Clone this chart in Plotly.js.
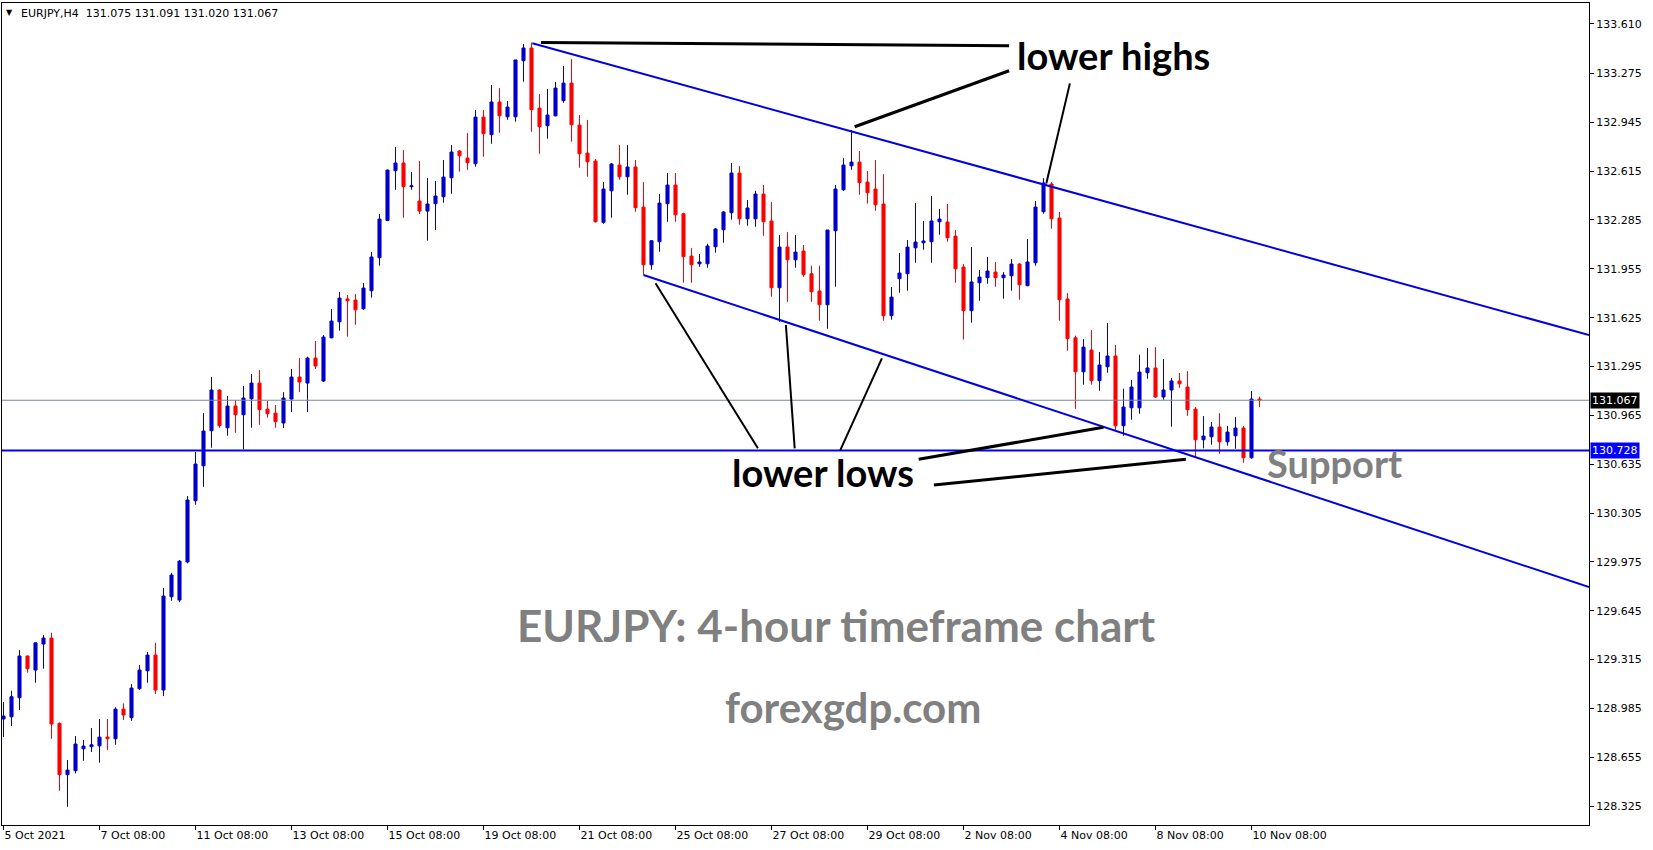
<!DOCTYPE html>
<html>
<head>
<meta charset="utf-8">
<script src="https://cdn.plot.ly/plotly-3.0.1.min.js"></script>
<style>
html,body{margin:0;padding:0;background:#fff;}
#chart{width:1653px;height:850px;}
</style>
</head>
<body>
<div id="chart"></div>
<script>
// ---- H4 candles, EURJPY (bar index 0 = 5 Oct 2021) ----
const opens = [
128.913,128.928,129.057,129.339,129.244,129.420,129.460,128.884,128.537,128.564,
128.712,128.726,128.732,128.791,128.780,128.980,128.922,129.118,129.239,129.345,
129.109,129.739,129.717,129.974,130.388,130.624,130.861,131.136,130.881,131.028,
130.969,131.077,131.183,131.007,130.980,130.913,131.075,131.224,131.183,131.352,
131.197,131.489,131.597,131.751,131.744,131.685,131.807,132.030,132.282,132.618,
132.670,132.510,132.413,132.345,132.395,132.442,132.570,132.751,132.703,132.665,
132.980,132.861,133.082,132.982,132.982,133.361,133.447,133.041,132.922,132.989,
133.091,133.210,132.926,132.737,132.683,132.269,132.482,132.656,132.577,132.643,
132.372,131.982,132.138,132.395,132.521,132.327,132.041,131.989,131.989,132.104,
132.219,132.334,132.602,132.293,132.293,132.460,132.278,131.827,132.102,132.016,
132.075,131.922,131.805,131.712,132.212,132.489,132.651,132.676,132.541,132.494,
132.393,131.638,131.888,131.922,132.097,132.131,132.138,132.273,132.271,132.176,
131.967,131.672,131.861,131.895,131.933,131.895,131.908,131.987,131.841,131.996,
132.341,132.528,132.298,131.751,131.489,131.259,131.406,131.199,131.293,131.366,
130.895,131.016,131.016,131.253,131.285,131.089,131.136,131.197,131.156,131.007,
130.800,130.820,130.886,130.786,130.827,130.879,130.678,131.075];
const highs = [
129.028,129.104,129.379,129.342,129.430,129.480,129.496,128.890,128.636,128.798,
128.771,128.852,128.913,128.913,128.992,129.019,129.149,129.278,129.366,129.428,
129.798,129.901,129.987,130.420,130.717,130.980,131.224,131.140,131.095,131.068,
131.163,131.244,131.271,131.062,131.035,131.122,131.278,131.352,131.361,131.467,
131.507,131.683,131.798,131.778,131.784,131.859,132.068,132.325,132.625,132.778,
132.757,132.609,132.683,132.568,132.548,132.690,132.791,132.757,132.872,133.028,
133.028,133.197,133.176,133.089,133.366,133.474,133.484,133.136,133.170,133.217,
133.325,133.372,132.994,132.960,132.697,132.541,132.670,132.791,132.791,132.690,
132.541,132.149,132.460,132.602,132.602,132.334,132.095,132.055,132.124,132.230,
132.345,132.670,132.649,132.420,132.482,132.521,132.406,132.183,132.203,132.183,
132.116,131.976,131.976,132.217,132.521,132.703,132.893,132.751,132.616,132.690,
132.595,131.832,132.062,132.149,132.399,132.278,132.447,132.359,132.393,132.217,
131.987,132.102,131.947,132.035,132.001,131.933,132.021,131.994,132.156,132.413,
132.568,132.541,132.339,131.791,131.503,131.480,131.541,131.393,131.589,131.440,
131.145,131.203,131.374,131.420,131.426,131.345,131.217,131.251,131.264,131.021,
130.960,130.920,130.980,130.893,130.953,130.893,131.129,131.091];
const lows = [
128.791,128.866,128.974,129.226,129.158,129.253,128.780,128.428,128.320,128.546,
128.631,128.690,128.618,128.703,128.739,128.906,128.901,129.109,129.158,129.082,
129.068,129.712,129.703,129.965,130.361,130.482,130.746,130.881,130.827,130.847,
130.735,130.881,130.901,130.949,130.881,130.879,130.987,131.122,130.987,131.278,
131.190,131.485,131.537,131.496,131.577,131.678,131.760,131.976,132.277,132.489,
132.300,132.489,132.325,132.145,132.217,132.401,132.462,132.611,132.624,132.645,
132.712,132.800,132.874,132.962,132.949,133.219,132.881,132.732,132.834,132.985,
133.077,132.814,132.638,132.577,132.268,132.259,132.300,132.557,132.455,132.341,
131.915,131.949,132.070,132.273,132.273,131.861,131.861,131.969,131.962,132.064,
132.131,132.287,132.253,132.246,132.239,132.178,131.766,131.597,131.732,131.962,
131.901,131.732,131.604,131.550,131.834,132.482,132.624,132.455,132.395,132.347,
131.604,131.611,131.793,131.807,131.996,132.084,131.996,132.185,132.138,131.861,
131.476,131.591,131.739,131.854,131.834,131.753,131.807,131.746,131.837,131.976,
132.327,132.226,131.604,131.401,131.009,131.172,131.172,131.131,131.253,130.866,
130.827,130.935,130.976,131.212,131.084,131.070,130.888,131.151,130.962,130.685,
130.742,130.766,130.705,130.760,130.739,130.645,130.672,131.020];
const closes = [
128.933,129.064,129.339,129.253,129.428,129.460,128.879,128.537,128.568,128.744,
128.730,128.739,128.791,128.780,128.980,128.940,129.122,129.244,129.345,129.109,
129.744,129.886,129.980,130.393,130.636,130.859,131.136,130.895,131.028,130.969,
131.082,131.183,131.003,130.976,130.922,131.082,131.224,131.190,131.352,131.298,
131.494,131.602,131.757,131.739,131.678,131.825,132.035,132.291,132.622,132.670,
132.510,132.516,132.345,132.393,132.447,132.575,132.744,132.719,132.672,132.980,
132.868,133.082,132.989,133.048,133.366,133.447,133.030,132.915,132.994,133.176,
133.210,132.928,132.732,132.678,132.273,132.494,132.663,132.577,132.643,132.368,
131.982,132.145,132.399,132.521,132.320,132.037,131.982,132.001,132.109,132.224,
132.339,132.602,132.293,132.366,132.460,132.273,131.827,132.102,132.016,132.068,
131.915,131.800,131.712,132.217,132.494,132.656,132.676,132.537,132.469,132.388,
131.638,131.764,131.926,132.102,132.136,132.143,132.278,132.291,132.165,131.955,
131.672,131.866,131.899,131.940,131.895,131.913,131.987,131.847,132.001,132.372,
132.535,132.293,131.746,131.483,131.259,131.426,131.199,131.305,131.366,130.895,
131.021,131.156,131.257,131.285,131.089,131.136,131.197,131.178,131.003,130.800,
130.825,130.886,130.786,130.852,130.879,130.678,131.075,131.067];

// time axis labels (every 12th H4 bar)
const tickIndex  = [0,12,24,36,48,60,72,84,96,108,120,132,144,156];
const tickLabels = ['5 Oct 2021','7 Oct 08:00','11 Oct 08:00','13 Oct 08:00','15 Oct 08:00',
  '19 Oct 08:00','21 Oct 08:00','25 Oct 08:00','27 Oct 08:00','29 Oct 08:00',
  '2 Nov 08:00','4 Nov 08:00','8 Nov 08:00','10 Nov 08:00'];

// price scale labels
const priceTicks = [133.610,133.275,132.945,132.615,132.285,131.955,131.625,131.295,
  130.965,130.635,130.305,129.975,129.645,129.315,128.985,128.655,128.325];

// levels and drawn objects (bar index, price)
const supportLevel = 130.728;
const bidPrice = 131.067;
const headerText = 'EURJPY,H4&nbsp; 131.075 131.091 131.020 131.067';
const upperChannel = [[66.1,133.479],[198.19,131.507]];
const lowerChannel = [[80.0,131.913],[198.19,129.805]];
const highPointers = [
  [[67.2,133.484],[125.7,133.462],3],
  [[125.7,133.293],[106.4,132.915],3],
  [[133.3,133.208],[130.35,132.532],2]
];
const lowPointers = [
  [[81.5,131.857],[94.3,130.742],2],
  [[97.8,131.575],[98.9,130.742],2],
  [[109.8,131.350],[104.6,130.730],2],
  [[114.4,130.668],[137.5,130.884],3],
  [[116.3,130.494],[147.8,130.668],3]
];

const barIndex = opens.map((_, i) => i);

const trace = {
  type: 'candlestick',
  x: barIndex, open: opens, high: highs, low: lows, close: closes,
  increasing: {line: {color: '#0000cd', width: 1}, fillcolor: '#0000cd'},
  decreasing: {line: {color: '#ff0000', width: 1}, fillcolor: '#ff0000'},
  whiskerwidth: 0,
  hoverinfo: 'skip',
  showlegend: false
};

function seg(p0, p1, color, width, dash) {
  return {type: 'line', xref: 'x', yref: 'y', x0: p0[0], y0: p0[1], x1: p1[0], y1: p1[1],
          line: {color: color, width: width, dash: dash || 'solid'}, layer: 'above'};
}

const shapes = [
  {type: 'line', xref: 'paper', yref: 'y', x0: 0, x1: 1, y0: bidPrice, y1: bidPrice,
   line: {color: '#778899', width: 1}},
  {type: 'line', xref: 'paper', yref: 'y', x0: 0, x1: 1, y0: supportLevel, y1: supportLevel,
   line: {color: '#0000ff', width: 2}},
  seg(upperChannel[0], upperChannel[1], '#0000e6', 2),
  seg(lowerChannel[0], lowerChannel[1], '#0000e6', 2)
];
highPointers.concat(lowPointers).forEach(p => shapes.push(seg(p[0], p[1], '#000000', p[2])));

const bigFont = {family: 'Lato, "Open Sans", sans-serif', size: 38, color: '#000000', weight: 700};
const grayFont = {family: 'Lato, "Open Sans", sans-serif', size: 38, color: '#808080', weight: 700};
const axisFont = {family: '"DejaVu Sans", Verdana, sans-serif', size: 11, color: '#000000'};

const annotations = [
  {xref: 'paper', yref: 'paper', x: 0.0012, y: 0.9885, xanchor: 'left', yanchor: 'middle',
   text: '▼', showarrow: false, font: {family: '"DejaVu Sans", sans-serif', size: 8, color: '#000'}},
  {xref: 'paper', yref: 'paper', x: 0.011, y: 0.9878, xanchor: 'left', yanchor: 'middle',
   text: headerText, showarrow: false, font: axisFont},
  {xref: 'x', yref: 'y', x: 138.7, y: 133.400, text: 'lower highs', showarrow: false,
   xanchor: 'center', yanchor: 'middle', font: bigFont},
  {xref: 'x', yref: 'y', x: 102.4, y: 130.580, text: 'lower lows', showarrow: false,
   xanchor: 'center', yanchor: 'middle', font: bigFont},
  {xref: 'x', yref: 'y', x: 166.4, y: 130.640, text: 'Support', showarrow: false,
   xanchor: 'center', yanchor: 'middle', font: grayFont},
  {xref: 'x', yref: 'y', x: 104.1, y: 129.549, text: 'EURJPY: 4-hour timeframe chart', showarrow: false,
   xanchor: 'center', yanchor: 'middle', font: Object.assign({}, grayFont, {size: 44})},
  {xref: 'x', yref: 'y', x: 106.2, y: 128.991, text: 'forexgdp.com', showarrow: false,
   xanchor: 'center', yanchor: 'middle', font: Object.assign({}, grayFont, {size: 42})},
  {xref: 'paper', yref: 'y', x: 1, y: bidPrice, xanchor: 'left', yanchor: 'middle', xshift: 1,
   text: bidPrice.toFixed(3), showarrow: false, bgcolor: '#000000', borderpad: 1,
   font: Object.assign({}, axisFont, {color: '#ffffff'})},
  {xref: 'paper', yref: 'y', x: 1, y: supportLevel, xanchor: 'left', yanchor: 'middle', xshift: 1,
   text: supportLevel.toFixed(3), showarrow: false, bgcolor: '#0000ff', borderpad: 1,
   font: Object.assign({}, axisFont, {color: '#ffffff'})}
];

const layout = {
  width: 1653, height: 850,
  margin: {l: 2, r: 64, t: 3, b: 25, pad: 0},
  paper_bgcolor: '#ffffff', plot_bgcolor: '#ffffff',
  showlegend: false,
  xaxis: {
    type: 'linear', range: [-0.1875, 198.1875], fixedrange: true,
    tickmode: 'array', tickvals: tickIndex, ticktext: tickLabels,
    ticks: 'outside', ticklen: 4, tickwidth: 1, tickcolor: '#000',
    ticklabelposition: 'outside right',
    tickfont: axisFont,
    showgrid: false, zeroline: false,
    showline: true, mirror: true, linecolor: '#000', linewidth: 1,
    rangeslider: {visible: false}
  },
  yaxis: {
    side: 'right', range: [128.197, 133.751], fixedrange: true,
    tickmode: 'array', tickvals: priceTicks, ticktext: priceTicks.map(v => v.toFixed(3)),
    ticks: 'outside', ticklen: 4, tickwidth: 1, tickcolor: '#000',
    tickfont: axisFont,
    showgrid: false, zeroline: false,
    showline: true, mirror: true, linecolor: '#000', linewidth: 1
  },
  boxgap: 0.45,
  shapes: shapes,
  annotations: annotations
};

Plotly.newPlot('chart', [trace], layout, {displayModeBar: false, staticPlot: true});
</script>
</body>
</html>
